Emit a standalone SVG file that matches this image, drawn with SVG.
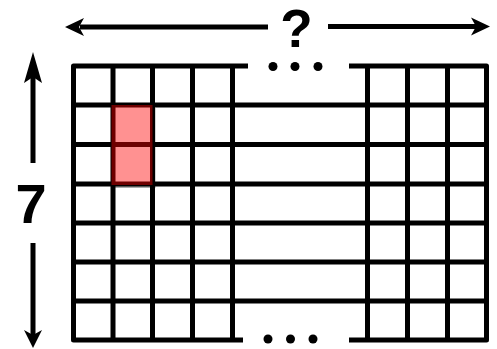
<svg xmlns="http://www.w3.org/2000/svg" width="497" height="349" viewBox="0 0 497 349">
<style>
.g{fill:none;stroke:#000;stroke-width:5;stroke-linejoin:round}
.a{fill:none;stroke:#000;stroke-width:5}
.h{fill:#000}
.t{font-family:"Liberation Sans",Arial,sans-serif;font-weight:bold;fill:#000;text-anchor:middle}
</style>
<rect width="497" height="349" fill="#fff"/>
<g id="highlight-shadow">
<rect x="114.5" y="108" width="41" height="80" fill="#aaa"/>
<rect x="111.5" y="105" width="41" height="80" fill="#fff"/>
</g>
<g id="grid">
<path class="g" d="M248 66H73.5V340H243"/>
<path class="g" d="M349 66H486.5V340H349"/>
<path class="g" d="M73.5 105H486.5M73.5 144.5H486.5M73.5 184H486.5M73.5 223H486.5M73.5 262H486.5M73.5 301H486.5"/>
<path class="g" d="M113 66V340M152.5 66V340M192.5 66V340M232.5 66V340M367.5 66V340M407.5 66V340M447.5 66V340"/>
<circle cx="273" cy="66.5" r="4.5"/><circle cx="295" cy="66.5" r="4.5"/><circle cx="318" cy="66.5" r="4.5"/>
<circle cx="268" cy="339" r="4.5"/><circle cx="290.5" cy="339" r="4.5"/><circle cx="313" cy="339" r="4.5"/>
</g>
<g id="highlight">
<rect x="111.5" y="105" width="41" height="80" fill="#ff0000" opacity="0.43"/>
</g>
<g id="connectors">
<path class="a" d="M80 27H268M328 26.5H476"/>
<path class="h" d="M65 27L84 18L79 27L84 36Z"/>
<path class="h" d="M490 26.5L471 17.5L476 26.5L471 35.5Z"/>
<path class="a" d="M33 76V163M33 243V336"/>
<path class="h" d="M33 52L24 83L33 77L42 83Z"/>
<path class="h" d="M33 348L24 330L33 335L42 330Z"/>
</g>
<g id="labels">
<text class="t" x="296.5" y="47" font-size="53">?</text>
<text class="t" x="31" y="223" font-size="56">7</text>
</g>
</svg>
